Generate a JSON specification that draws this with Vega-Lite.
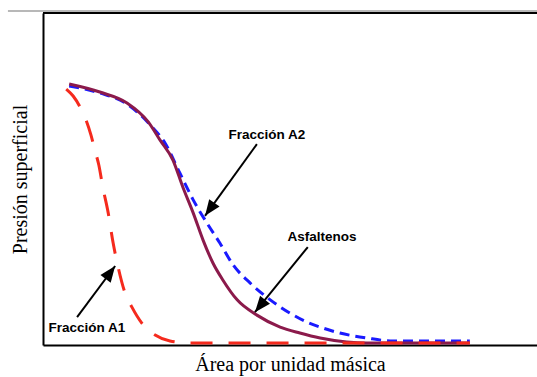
{
  "$schema": "https://vega.github.io/schema/vega-lite/v6.json",
  "width": 494,
  "height": 332,
  "autosize": {"type": "none"},
  "padding": {"left": 43, "top": 13, "right": 0, "bottom": 32},
  "background": "white",
  "config": {"view": {"stroke": null}},
  "datasets": {
    "a2": [
      {"x": 5.3, "y": 78.0}, {"x": 11.5, "y": 75.9}, {"x": 17.0, "y": 72.6}, {"x": 21.7, "y": 66.3},
      {"x": 24.7, "y": 60.8}, {"x": 27.7, "y": 51.8}, {"x": 30.4, "y": 43.7}, {"x": 33.2, "y": 36.7},
      {"x": 35.8, "y": 30.7}, {"x": 38.5, "y": 24.1}, {"x": 41.9, "y": 18.7}, {"x": 46.0, "y": 13.6},
      {"x": 50.0, "y": 9.6}, {"x": 53.4, "y": 6.9}, {"x": 56.1, "y": 5.4}, {"x": 60.1, "y": 3.6},
      {"x": 65.6, "y": 2.1}, {"x": 70.9, "y": 1.2}, {"x": 86.4, "y": 1.2}
    ],
    "asf": [
      {"x": 5.3, "y": 78.6}, {"x": 11.5, "y": 76.2}, {"x": 17.0, "y": 72.9}, {"x": 21.3, "y": 67.2},
      {"x": 23.7, "y": 61.7}, {"x": 26.3, "y": 55.7}, {"x": 28.3, "y": 47.6}, {"x": 30.4, "y": 39.8},
      {"x": 32.4, "y": 31.6}, {"x": 34.4, "y": 24.7}, {"x": 36.4, "y": 19.6}, {"x": 39.3, "y": 13.6},
      {"x": 43.3, "y": 9.0}, {"x": 48.0, "y": 5.4}, {"x": 52.0, "y": 3.6}, {"x": 56.1, "y": 2.1},
      {"x": 61.5, "y": 0.9}, {"x": 65.6, "y": 0.6}, {"x": 86.4, "y": 0.6}
    ],
    "a1": [
      {"x": 4.7, "y": 77.1}, {"x": 6.1, "y": 75.0}, {"x": 7.5, "y": 71.7}, {"x": 8.7, "y": 67.8},
      {"x": 9.7, "y": 63.3}, {"x": 10.5, "y": 58.7}, {"x": 11.3, "y": 54.2}, {"x": 12.1, "y": 47.6},
      {"x": 13.2, "y": 39.8}, {"x": 14.2, "y": 30.7}, {"x": 15.2, "y": 23.5}, {"x": 16.6, "y": 15.7},
      {"x": 18.0, "y": 11.4}, {"x": 20.0, "y": 6.6}, {"x": 22.7, "y": 3.0}, {"x": 25.7, "y": 1.2},
      {"x": 29.8, "y": 0.6}, {"x": 86.4, "y": 0.6}
    ],
    "arrows": [
      {"label": "Fracción A2", "x": 43.3, "y": 60.5, "x2": 32.8, "y2": 38.9},
      {"label": "Asfaltenos", "x": 53.6, "y": 29.5, "x2": 42.9, "y2": 9.9},
      {"label": "Fracción A1", "x": 6.9, "y": 8.4, "x2": 14.6, "y2": 23.8}
    ],
    "heads": [
      {"label": "Fracción A2", "x": 32.8, "y": 38.9},
      {"label": "Asfaltenos", "x": 42.9, "y": 9.9},
      {"label": "Fracción A1", "x": 14.6, "y": 23.8}
    ],
    "labels": [
      {"label": "Fracción A2", "x": 45.3, "y": 63.3},
      {"label": "Asfaltenos", "x": 56.5, "y": 32.5},
      {"label": "Fracción A1", "x": 8.9, "y": 5.1}
    ],
    "frame": [{"x": 0, "x2": 100, "y": 100}],
    "edge": [{"x": -7.1, "x2": 100, "y": 100.6}]
  },
  "encoding": {
    "x": {"field": "x", "type": "quantitative", "scale": {"domain": [0, 100], "nice": false, "zero": false},
      "axis": {"title": "Área por unidad másica", "domain": true, "domainColor": "black", "domainWidth": 2, "ticks": false, "labels": false, "grid": false,
        "titleFont": "Liberation Serif", "titleFontSize": 20, "titleFontWeight": "normal", "titleColor": "black", "titlePadding": 9}},
    "y": {"field": "y", "type": "quantitative", "scale": {"domain": [0, 100], "nice": false, "zero": false},
      "axis": {"title": "Presión superficial", "domain": true, "domainColor": "black", "domainWidth": 2, "ticks": false, "labels": false, "grid": false,
        "titleFont": "Liberation Serif", "titleFontSize": 20, "titleFontWeight": "normal", "titleColor": "black", "titlePadding": 13}}
  },
  "layer": [
    {
      "data": {"name": "edge"},
      "mark": {"type": "rule", "color": "#a0a0a0", "strokeWidth": 1.5, "clip": false},
      "encoding": {"x2": {"field": "x2"}}
    },
    {
      "data": {"name": "frame"},
      "mark": {"type": "rule", "color": "black", "strokeWidth": 2},
      "encoding": {"x2": {"field": "x2"}}
    },
    {
      "data": {"name": "a2"},
      "mark": {"type": "line", "color": "#1a1aff", "strokeWidth": 3, "strokeDash": [10, 6], "interpolate": "monotone"}
    },
    {
      "data": {"name": "asf"},
      "mark": {"type": "line", "color": "#8b1a4b", "strokeWidth": 3, "interpolate": "monotone"}
    },
    {
      "data": {"name": "a1"},
      "mark": {"type": "line", "color": "#f52a1d", "strokeWidth": 3, "strokeDash": [22, 16], "interpolate": "monotone"}
    },
    {
      "data": {"name": "arrows"},
      "mark": {"type": "rule", "color": "black", "strokeWidth": 2},
      "encoding": {"x2": {"field": "x2"}, "y2": {"field": "y2"}}
    },
    {
      "data": {"name": "heads"},
      "transform": [{"filter": "datum.label === 'Fracción A2'"}],
      "mark": {"type": "point", "shape": "M0,0L0.8,2L-0.8,2Z", "size": 256, "filled": true, "color": "black", "opacity": 1, "angle": 215.8}
    },
    {
      "data": {"name": "heads"},
      "transform": [{"filter": "datum.label === 'Asfaltenos'"}],
      "mark": {"type": "point", "shape": "M0,0L0.8,2L-0.8,2Z", "size": 256, "filled": true, "color": "black", "opacity": 1, "angle": 219.2}
    },
    {
      "data": {"name": "heads"},
      "transform": [{"filter": "datum.label === 'Fracción A1'"}],
      "mark": {"type": "point", "shape": "M0,0L0.8,2L-0.8,2Z", "size": 256, "filled": true, "color": "black", "opacity": 1, "angle": 36.7}
    },
    {
      "data": {"name": "labels"},
      "mark": {"type": "text", "font": "Liberation Sans", "fontWeight": "bold", "fontSize": 13.5, "color": "black", "align": "center", "baseline": "middle"},
      "encoding": {"text": {"field": "label"}}
    }
  ]
}
